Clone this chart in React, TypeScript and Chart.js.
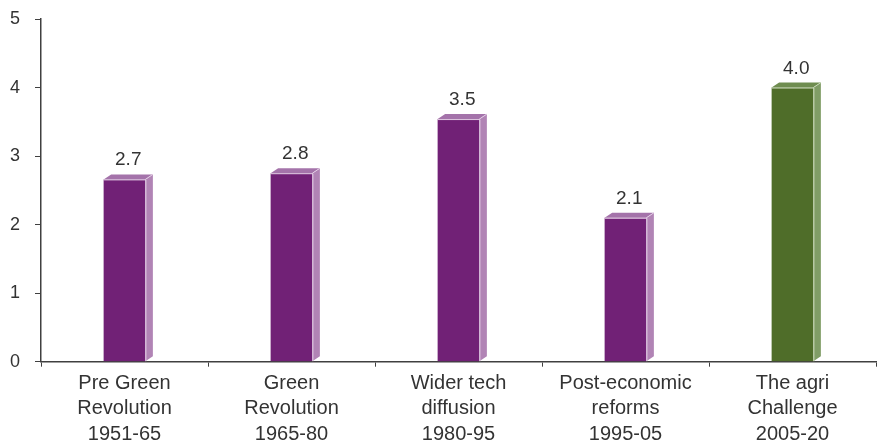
import React, { useEffect, useRef } from "react";
import { Chart, registerables } from "chart.js";

Chart.register(...registerables);

const categories: string[][] = [
  ["Pre Green", "Revolution", "1951-65"],
  ["Green", "Revolution", "1965-80"],
  ["Wider tech", "diffusion", "1980-95"],
  ["Post-economic", "reforms", "1995-05"],
  ["The agri", "Challenge", "2005-20"],
];
const growthValues: number[] = [2.66, 2.75, 3.54, 2.1, 4.0];
const valueLabels: string[] = ["2.7", "2.8", "3.5", "2.1", "4.0"];
const yTicks: number[] = [0, 1, 2, 3, 4, 5];

const FRONT = ["#712176", "#712176", "#712176", "#712176", "#4F6D29"];
const SIDE = ["#B184B5", "#B184B5", "#B184B5", "#B184B5", "#809D66"];
const TOP = ["#A473AA", "#A473AA", "#A473AA", "#A473AA", "#6F8D50"];
const EDGE = ["#E3CDE5", "#E3CDE5", "#E3CDE5", "#E3CDE5", "#C9D8B8"];

const DX = 7.5;
const DY = 5;

const bar3d = {
  id: "bar3d",
  afterDatasetsDraw(chart: any) {
    const ctx = chart.ctx;
    const meta = chart.getDatasetMeta(0);
    meta.data.forEach((bar: any, i: number) => {
      const { x, y, base, width } = bar.getProps(["x", "y", "base", "width"], true);
      const L = x - width / 2;
      const R = x + width / 2;
      const T = y;
      const B = base;
      ctx.save();
      ctx.fillStyle = TOP[i];
      ctx.beginPath();
      ctx.moveTo(L, T);
      ctx.lineTo(L + DX, T - DY);
      ctx.lineTo(R + DX, T - DY);
      ctx.lineTo(R, T);
      ctx.closePath();
      ctx.fill();
      ctx.fillStyle = SIDE[i];
      ctx.beginPath();
      ctx.moveTo(R, T);
      ctx.lineTo(R + DX, T - DY);
      ctx.lineTo(R + DX, B - DY);
      ctx.lineTo(R, B);
      ctx.closePath();
      ctx.fill();
      ctx.strokeStyle = EDGE[i];
      ctx.lineWidth = 1;
      ctx.beginPath();
      ctx.moveTo(L, T + 0.5);
      ctx.lineTo(R + 0.5, T + 0.5);
      ctx.lineTo(R + 0.5, B);
      ctx.moveTo(R, T);
      ctx.lineTo(R + DX, T - DY);
      ctx.stroke();
      ctx.fillStyle = "#333333";
      ctx.font = '19px "Liberation Sans", Arial, sans-serif';
      ctx.textAlign = "center";
      ctx.textBaseline = "alphabetic";
      ctx.fillText(valueLabels[i], x + DX / 2, T - DY - 9);
      ctx.restore();
    });
  },
};

export default function App() {
  const ref = useRef<HTMLCanvasElement | null>(null);
  useEffect(() => {
    if (!ref.current) return;
    const chart = new Chart(ref.current, {
      type: "bar",
      data: {
        labels: categories,
        datasets: [
          {
            data: growthValues,
            backgroundColor: FRONT,
            borderWidth: 0,
            barPercentage: 0.25,
            categoryPercentage: 1,
          },
        ],
      },
      options: {
        animation: false,
        responsive: true,
        maintainAspectRatio: false,
        layout: { padding: { top: 19, right: 9, left: 0, bottom: 0 } },
        plugins: {
          legend: { display: false },
          tooltip: { enabled: false },
        },
        scales: {
          x: {
            offset: true,
            grid: {
              offset: true,
              drawOnChartArea: false,
              drawTicks: true,
              tickLength: 5,
              color: "#404040",
            },
            border: { display: true, color: "#404040", width: 1.5 },
            ticks: {
              color: "#333333",
              padding: 4,
              font: { family: '"Liberation Sans", Arial, sans-serif', size: 20, lineHeight: 1.27 },
              maxRotation: 0,
              autoSkip: false,
            },
            afterFit: (s: any) => {
              s.height = 82.3;
              s.paddingLeft = 0;
              s.paddingRight = 0;
            },
          },
          y: {
            min: 0,
            max: 5,
            afterBuildTicks: (s: any) => {
              s.ticks = yTicks.map((v) => ({ value: v }));
            },
            grid: {
              drawOnChartArea: false,
              drawTicks: true,
              tickLength: 6,
              color: "#404040",
            },
            border: { display: true, color: "#404040", width: 1.5 },
            ticks: {
              color: "#333333",
              padding: 15,
              font: { family: '"Liberation Sans", Arial, sans-serif', size: 18 },
            },
            afterFit: (s: any) => {
              s.width = 41;
              s.paddingTop = 0;
              s.paddingBottom = 0;
            },
          },
        },
      },
      plugins: [bar3d],
    });
    return () => chart.destroy();
  }, []);
  return (
    <div style={{ position: "fixed", left: 0, top: 0, width: 885, height: 444, background: "#fff" }}>
      <canvas ref={ref} />
    </div>
  );
}
